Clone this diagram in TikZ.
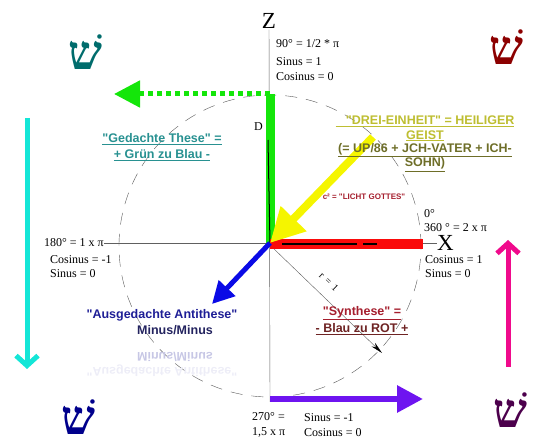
\documentclass[tikz,border=0pt]{standalone}
\usepackage{fontspec}
\setmainfont{Liberation Serif}
\setsansfont{Liberation Sans}[Ligatures=TeXOff]
\newfontfamily\hebfont[Script=Hebrew]{Liberation Serif}
\TeXXeTstate=1
\usetikzlibrary{arrows.meta, positioning}

\definecolor{gruen}{RGB}{20,230,10}
\definecolor{gelb}{RGB}{245,245,0}
\definecolor{rot}{RGB}{250,10,10}
\definecolor{blau}{RGB}{10,10,230}
\definecolor{violett}{RGB}{110,20,240}
\definecolor{tuerkis}{RGB}{20,230,215}
\definecolor{pink}{RGB}{240,10,140}
\definecolor{petrol}{RGB}{40,145,145}
\definecolor{olivhell}{RGB}{190,190,50}
\definecolor{olivdunkel}{RGB}{110,110,40}
\definecolor{weinrot}{RGB}{165,30,45}
\definecolor{braunrot}{RGB}{110,35,35}
\definecolor{marine}{RGB}{30,30,150}
\definecolor{marinedunkel}{RGB}{35,35,95}

\tikzset{
  achse/.style={gray!75!black, thin},
  kreis/.style={gray!70!black, thin, dash pattern=on 12pt off 9pt},
  wert/.style={font=\fontsize{12}{14.5}\selectfont, inner sep=0pt, anchor=west, align=left},
  titel/.style={font=\sffamily\bfseries\fontsize{12.5}{14.5}\selectfont, align=center, inner sep=0pt},
  schin/.style={font=\hebfont\bfseries\fontsize{48}{48}\selectfont, inner sep=0pt},
  kopf/.style={-{Triangle[length=#1, width=#1]}},
  kopf/.default=22pt,
}

\begin{document}
\begin{tikzpicture}[x=1pt, y=-1pt]
  \useasboundingbox (0,0) rectangle (544,446);

  % Koordinatensystem
  \coordinate (O) at (270,243);
  \node[font=\fontsize{23}{23}\selectfont, inner sep=1pt] (Zlab) at (269,21) {Z};
  \node[font=\fontsize{23}{23}\selectfont, inner sep=0pt, anchor=west] (Xlab) at (437,243) {X};
  \node[wert, anchor=east] (w180) at (104,243) {180° = 1 x π};
  \coordinate (unten) at (270,402);
  \draw[achse] (w180) -- (Xlab);
  \draw[achse] (Zlab) -- (unten);

  % Einheitskreis
  \coordinate (M) at (270,246);
  \draw[kreis] (M) circle[radius=151pt];
  \coordinate (rStart) at (273,248);
  \coordinate (rEnde) at (382,353);
  \draw[gray!70!black, thin, -{Stealth[length=12pt, width=5pt, black]}] (rStart) -- (rEnde);
  \node[font=\fontsize{10}{10}\selectfont, inner sep=0pt, rotate=-44] (rlab) at (329,282) {r\ \,=\ \,1};

  % Winkelangaben
  \node[wert] (w90) at (276,44) {90° = 1/2 * π};
  \node[wert] (w90b) at (276,69) {Sinus = 1\\Cosinus = 0};
  \node[wert] (w180b) at (50,266.5) {Cosinus = -1\\Sinus = 0};
  \node[wert] (w0) at (424,220.5) {0°\\360 ° = 2 x π};
  \node[wert] (w0b) at (425,266.5) {Cosinus = 1\\Sinus = 0};
  \node[wert] (w270) at (252,425) {270° =\\1,5 x π};
  \node[wert] (w270b) at (304,425) {Sinus = -1\\Cosinus = 0};
  \node[wert] (D) at (254,127) {D};

  % Balken und Pfeile
  \coordinate (gOben) at (270,94);
  \coordinate (gLinks) at (114,94);
  \draw[gruen, line width=9pt] (O) -- (gOben);
  \draw[black, line width=1pt] (268,140) -- (O);
  \draw[gruen, line width=5pt, dash pattern=on 5pt off 4pt, kopf=26pt] (gOben) -- (gLinks);

  \coordinate (rLinks) at (270,244);
  \coordinate (rRechts) at (423,244);
  \draw[rot, line width=10pt] (rLinks) -- (rRechts);
  \draw[black, line width=1.5pt, dash pattern=on 75pt off 6pt on 14pt off 60pt] (282,244) -- (410,244);

  \coordinate (gelbStart) at (373,137);
  \draw[gelb, line width=8pt, kopf=34pt] (gelbStart) -- (O);

  \coordinate (blauEnde) at (212,304);
  \draw[blau, line width=5pt, kopf=22pt] (O) -- (blauEnde);

  \coordinate (vStart) at (270,399);
  \coordinate (vEnde) at (423,399);
  \draw[violett, line width=6pt, kopf=26pt] (vStart) -- (vEnde);

  \coordinate (tOben) at (27,118);
  \coordinate (tUnten) at (27,369);
  \draw[tuerkis, line width=5pt, -{Straight Barb[length=10pt, width=22pt]}] (tOben) -- (tUnten);

  \coordinate (pUnten) at (508,367);
  \coordinate (pOben) at (508,240);
  \draw[pink, line width=5pt, -{Straight Barb[length=10pt, width=22pt]}] (pUnten) -- (pOben);

  % Beschriftungen
  \node[titel, font=\sffamily\bfseries\fontsize{12.5}{16}\selectfont, text=petrol] (these) at (162,147)
    {\underline{"Gedachte These" =}\\\underline{+ Grün zu Blau -}};
  \node[titel, text=olivhell] (drei) at (425,128.5)
    {\underline{\ \ \ "DREI-EINHEIT" = HEILIGER}\\\underline{GEIST}};
  \node[titel, text=olivdunkel] (vater) at (425,157.5)
    {\underline{(= UP/86 + JCH-VATER + ICH-}\\\underline{SOHN)}};
  \node[font=\sffamily\bfseries\fontsize{8}{8}\selectfont, text=weinrot, inner sep=0pt] (licht) at (364,197)
    {c² = "LICHT GOTTES"};
  \node[titel, text=marine] (anti) at (162,315) {"Ausgedachte Antithese"};
  \node[titel, text=marinedunkel] (minus) at (175,330) {Minus/Minus};
  \node[titel, text=marine!25, yscale=-1] (spiegel) at (175,357) {Minus/Minus};
  \node[titel, text=marine!8, yscale=-1] (spiegelb) at (162,371) {"Ausgedachte Antithese"};
  \node[titel, text=weinrot] (syn) at (362,313) {\underline{"Synthese" =}};
  \node[titel, text=braunrot] (synb) at (362,329) {\underline{- Blau zu ROT +}};

  % Schin
  \node[schin, text=teal!85!black] (s1) at (85,52) {\beginR שׁ\endR};
  \node[schin, text=red!55!black] (s2) at (506,47) {\beginR שׁ\endR};
  \node[schin, text=blue!55!black] (s3) at (78,417) {\beginR שׁ\endR};
  \node[schin, text=violet!60!black] (s4) at (510,410) {\beginR שׁ\endR};
\end{tikzpicture}
\end{document}
